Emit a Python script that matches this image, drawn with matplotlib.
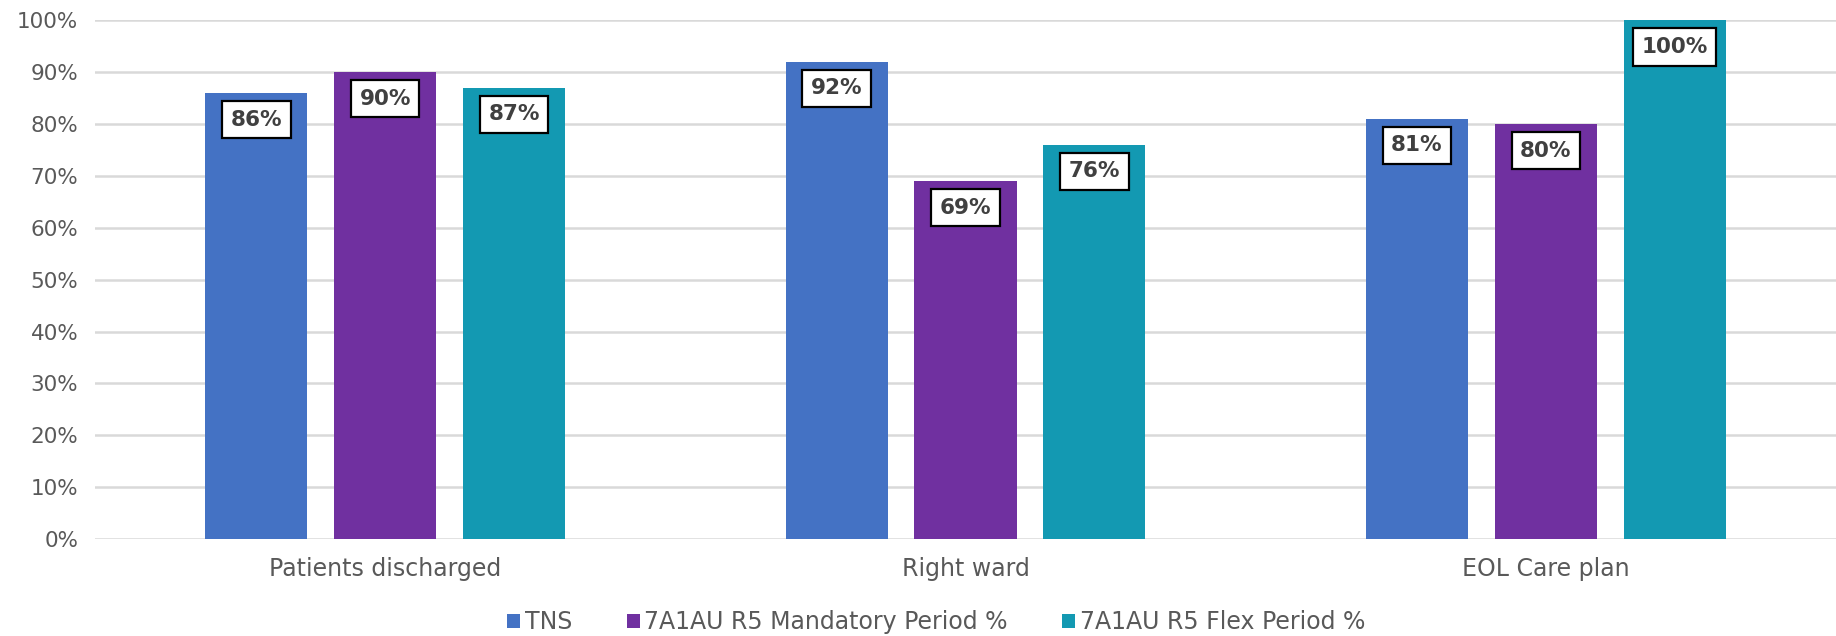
import matplotlib.pyplot as plt
import numpy as np
from matplotlib.ticker import PercentFormatter

categories = ["Patients discharged", "Right ward", "EOL Care plan"]
series_names = ["TNS", "7A1AU R5 Mandatory Period %", "7A1AU R5 Flex Period %"]
tns = [86, 92, 81]
mandatory = [90, 69, 80]
flex = [87, 76, 100]
colors = ["#4472C4", "#7030A0", "#1399B2"]

plt.rcParams['font.family'] = ['DejaVu Sans']

fig = plt.figure(figsize=(18.36, 6.36), dpi=100)
ax = fig.add_axes([0.0517, 0.1525, 0.9483, 0.8153])

x = np.arange(len(categories))
width = 0.176
step = 0.222

for i, (vals, name, c) in enumerate(zip([tns, mandatory, flex], series_names, colors)):
    pos = x + (i - 1) * step
    ax.bar(pos, vals, width, color=c, label=name, zorder=3)
    for p, v in zip(pos, vals):
        ax.text(p, v - 5.1, f"{v}%", ha="center", va="center", fontsize=15.5,
                fontweight="bold", color="#404040", zorder=4,
                bbox=dict(boxstyle="square,pad=0.4", fc="white", ec="black", lw=1.6))

ax.set_xlim(-0.5, 2.5)
ax.set_ylim(0, 100)
ax.set_yticks(range(0, 101, 10))
ax.yaxis.set_major_formatter(PercentFormatter(decimals=0))
ax.set_xticks(x)
ax.set_xticklabels(categories, fontsize=17)
ax.tick_params(axis="both", length=0, colors="#595959")
ax.tick_params(axis="y", labelsize=15.5, pad=12)
ax.tick_params(axis="x", pad=13)
ax.grid(axis="y", color="#D9D9D9", lw=1.8, zorder=0)
for s in ax.spines.values():
    s.set_visible(False)

fig.legend(loc="center", bbox_to_anchor=(0.51, 0.022), ncol=3, frameon=False,
           fontsize=17, handlelength=0.55, handleheight=0.55, handletextpad=0.2,
           columnspacing=2.3, labelcolor="#595959")

fig.savefig("out.png", dpi=100)
